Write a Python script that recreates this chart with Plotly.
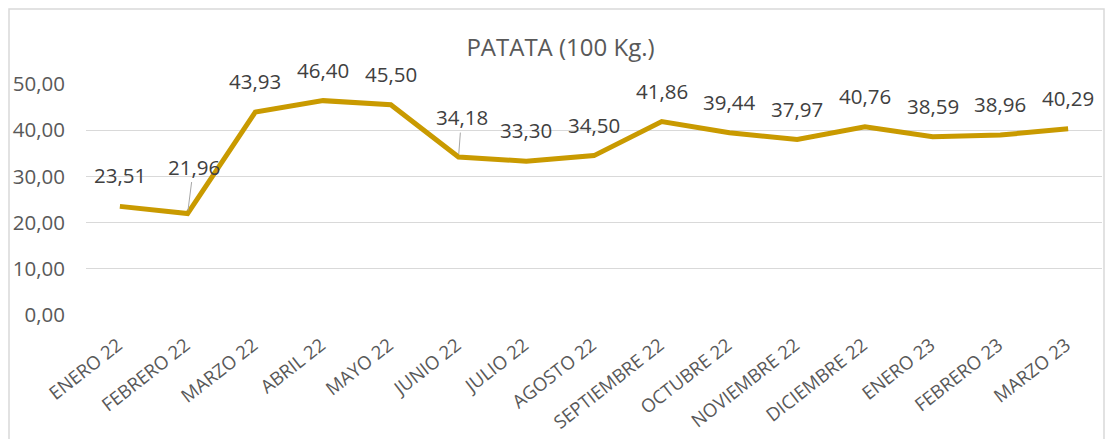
import plotly.graph_objects as go

months = ["ENERO 22", "FEBRERO 22", "MARZO 22", "ABRIL 22", "MAYO 22", "JUNIO 22",
          "JULIO 22", "AGOSTO 22", "SEPTIEMBRE 22", "OCTUBRE 22", "NOVIEMBRE 22",
          "DICIEMBRE 22", "ENERO 23", "FEBRERO 23", "MARZO 23"]
prices = [23.51, 21.96, 43.93, 46.40, 45.50, 34.18, 33.30, 34.50, 41.86, 39.44,
          37.97, 40.76, 38.59, 38.96, 40.29]
y_ticks = [0, 10, 20, 30, 40, 50]

_LINE = "#C99A00"
_TXT = "#595959"
_LBL = "#404040"
_GRID = "#D9D9D9"

# page body adds 8px margin, so the figure is a bit smaller than the window
W, H = 1105, 431
L, R, T, B = 78, 11, 76, 124
PW, PH = W - L - R, H - T - B

fig = go.Figure()
fig.add_trace(go.Scatter(
    x=months, y=prices, mode="lines",
    line=dict(color=_LINE, width=5),
    hoverinfo="skip", showlegend=False,
))

# data labels, two of them pushed up with a leader line like in Excel
leader = {1: (6, -47), 5: (3, -40)}
for i, (m, v) in enumerate(zip(months, prices)):
    txt = f"{v:.2f}".replace(".", ",")
    if i in leader:
        ax, ay = leader[i]
        fig.add_annotation(x=m, y=v, text=txt, showarrow=True, arrowhead=0,
                           arrowwidth=1, arrowcolor="#A6A6A6", ax=ax, ay=ay,
                           standoff=3, font=dict(size=20.5, color=_LBL))
    else:
        fig.add_annotation(x=m, y=v, text=txt, showarrow=False, yshift=31,
                           font=dict(size=20.5, color=_LBL))

# outer chart frame
fig.add_shape(type="rect", xref="paper", yref="paper",
              x0=(1 - L) / PW, x1=(W - 9 - L) / PW,
              y0=-2, y1=1 + (T - 1) / PH,
              line=dict(color=_GRID, width=1.5), layer="below")

fig.update_layout(
    width=W, height=H,
    margin=dict(l=L, r=R, t=T, b=B),
    paper_bgcolor="white", plot_bgcolor="white",
    font=dict(family="Open Sans, sans-serif", color=_TXT),
    separators=",.",
    title=dict(text="PATATA (100 Kg.)", x=0.5, xanchor="center",
               y=1 - 40 / H, yanchor="middle",
               font=dict(size=24, color=_TXT)),
    xaxis=dict(range=[-0.5, len(months) - 0.5], tickangle=-38,
               tickfont=dict(size=18.5, color=_TXT), automargin=False,
               showgrid=False, showline=False, ticks="",
               ticklabelstandoff=15, ticklabelshift=-2),
    yaxis=dict(range=[0, 50], tickvals=y_ticks, tickformat=".2f",
               tickfont=dict(size=20.5, color=_TXT), gridcolor=_GRID,
               gridwidth=1, zeroline=False, showline=False,
               automargin=False, ticklabelstandoff=20),
)

fig.write_html("out.html")
